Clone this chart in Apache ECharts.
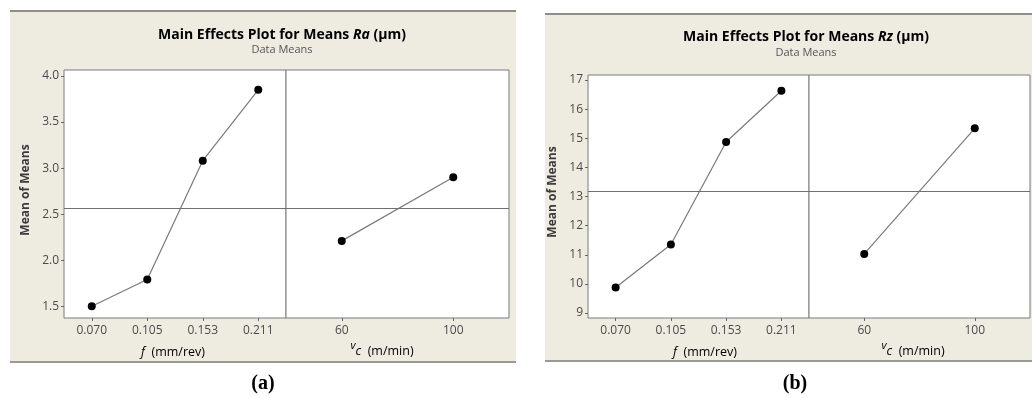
<!DOCTYPE html>
<html>
<head>
<meta charset="utf-8">
<script src="https://cdn.jsdelivr.net/npm/echarts@6/dist/echarts.min.js"></script>
<style>
html,body{margin:0;padding:0;background:#fff;}
#c{width:1032px;height:398px;}
</style>
</head>
<body>
<div id="c"></div>
<script>
// ---- data ----
const fCats = ['0.070', '0.105', '0.153', '0.211'];
const vcCats = ['60', '100'];
const raF = [1.50, 1.79, 3.08, 3.85];
const raVc = [2.21, 2.90];
const rzF = [9.88, 11.35, 14.87, 16.63];
const rzVc = [11.03, 15.34];
const raTicks = [1.5, 2.0, 2.5, 3.0, 3.5, 4.0];
const rzTicks = [9, 10, 11, 12, 13, 14, 15, 16, 17];

const mean = a => a.reduce((s, v) => s + v, 0) / a.length;
const raMean = mean(raF);
const rzMean = mean(rzF);

const FONT = '"Open Sans", "Noto Sans", sans-serif';
const BG = '#eeebe1';
const TXT = '#4a4a4a';

const grids = [
  {left: 64, top: 70, width: 222, height: 248},
  {left: 286, top: 70, width: 223, height: 248},
  {left: 588, top: 75, width: 221, height: 243},
  {left: 809, top: 75, width: 221, height: 243}
].map(g => Object.assign(g, {show: true, backgroundColor: '#fff', borderColor: '#7a7a7a', borderWidth: 1}));

function xAx(i, cats) {
  return {
    type: 'category', gridIndex: i, data: cats, boundaryGap: true,
    axisLine: {show: false},
    axisTick: {show: true, alignWithLabel: true, interval: 0, length: 3, lineStyle: {color: '#666'}},
    axisLabel: {interval: 0, margin: 7, color: TXT, fontSize: 12, fontFamily: FONT},
    splitLine: {show: false}
  };
}
function yAx(i, mn, mx, ticks, dec, show) {
  return {
    type: 'value', gridIndex: i, min: mn, max: mx, show: show,
    axisLine: {show: false},
    axisTick: {show: true, length: 3, customValues: ticks, lineStyle: {color: '#666'}},
    axisLabel: {customValues: ticks, margin: 5, color: TXT, fontSize: 12, fontFamily: FONT,
      formatter: v => Number(v).toFixed(dec)},
    splitLine: {show: false}
  };
}
function ser(i, data, m) {
  return {
    type: 'line', xAxisIndex: i, yAxisIndex: i, data: data,
    symbol: 'circle', symbolSize: 8, itemStyle: {color: '#000'},
    lineStyle: {color: '#7a7a7a', width: 1.2}, z: 3,
    markLine: {silent: true, symbol: ['none', 'none'], label: {show: false},
      lineStyle: {color: '#707070', type: 'solid', width: 1},
      data: [{yAxis: m}]}
  };
}

const richTitle = {
  b: {fontFamily: FONT, fontWeight: 'bold', fontSize: 14, color: '#333'},
  bi: {fontFamily: FONT, fontWeight: 'bold', fontStyle: 'italic', fontSize: 14, color: '#333'}
};
const richAxis = {
  n: {fontFamily: FONT, fontSize: 12.5, color: TXT, verticalAlign: 'bottom', lineHeight: 18},
  i: {fontFamily: FONT, fontStyle: 'italic', fontSize: 12.5, color: TXT, verticalAlign: 'bottom', lineHeight: 18},
  v: {fontFamily: FONT, fontStyle: 'italic', fontSize: 11, color: TXT, verticalAlign: 'top', lineHeight: 18},
  c: {fontFamily: FONT, fontStyle: 'italic', fontSize: 12.5, color: TXT, verticalAlign: 'bottom', lineHeight: 18}
};
function txt(x, y, text, rich, extra) {
  return Object.assign({type: 'text', x: x, y: y, z: 10, silent: true,
    style: {text: text, rich: rich, align: 'center', verticalAlign: 'middle'}}, extra || {});
}
function plain(x, y, text, font, fill) {
  return {type: 'text', x: x, y: y, z: 10, silent: true,
    style: {text: text, align: 'center', verticalAlign: 'middle', font: font, fill: fill}};
}

const graphic = [
  // panel backgrounds
  {type: 'rect', z: -10, silent: true, shape: {x: 10, y: 10, width: 506, height: 353}, style: {fill: BG}},
  {type: 'rect', z: -9, silent: true, shape: {x: 10, y: 10, width: 506, height: 2}, style: {fill: '#8f8f8a'}},
  {type: 'rect', z: -9, silent: true, shape: {x: 10, y: 361, width: 506, height: 2}, style: {fill: '#9a9a95'}},
  {type: 'rect', z: -10, silent: true, shape: {x: 545, y: 13, width: 487, height: 349}, style: {fill: BG}},
  {type: 'rect', z: -9, silent: true, shape: {x: 545, y: 13, width: 487, height: 2}, style: {fill: '#8f8f8a'}},
  {type: 'rect', z: -9, silent: true, shape: {x: 545, y: 360, width: 487, height: 2}, style: {fill: '#9a9a95'}},
  // titles
  txt(282, 35, '{b|Main Effects Plot for Means }{bi|Ra}{b| (μm)}', richTitle),
  plain(282, 50, 'Data Means', '11px ' + FONT, '#555'),
  txt(806, 37.5, '{b|Main Effects Plot for Means }{bi|Rz}{b| (μm)}', richTitle),
  plain(806, 53, 'Data Means', '11px ' + FONT, '#555'),
  // axis names
  txt(173, 350, '{i|f}{n|  (mm/rev)}', richAxis),
  txt(382, 349, '{v|v}{c|c}{n|  (m/min)}', richAxis),
  txt(705, 350, '{i|f}{n|  (mm/rev)}', richAxis),
  txt(913, 349, '{v|v}{c|c}{n|  (m/min)}', richAxis),
  {type: 'text', x: 26, y: 190, rotation: Math.PI / 2, z: 10, silent: true,
    style: {text: 'Mean of Means', align: 'center', verticalAlign: 'middle', font: 'bold 12px ' + FONT, fill: '#3a3a3a'}},
  {type: 'text', x: 553, y: 192, rotation: Math.PI / 2, z: 10, silent: true,
    style: {text: 'Mean of Means', align: 'center', verticalAlign: 'middle', font: 'bold 12px ' + FONT, fill: '#3a3a3a'}},
  // captions
  plain(263, 384, '(a)', 'bold 20px "Liberation Serif", serif', '#000'),
  plain(795, 384, '(b)', 'bold 20px "Liberation Serif", serif', '#000')
];

const chart = echarts.init(document.getElementById('c'), null, {renderer: 'canvas'});
chart.setOption({
  animation: false,
  backgroundColor: '#fff',
  grid: grids,
  xAxis: [xAx(0, fCats), xAx(1, vcCats), xAx(2, fCats), xAx(3, vcCats)],
  yAxis: [
    yAx(0, 1.373, 4.065, raTicks, 1, true),
    yAx(1, 1.373, 4.065, raTicks, 1, false),
    yAx(2, 8.83, 17.17, rzTicks, 0, true),
    yAx(3, 8.83, 17.17, rzTicks, 0, false)
  ],
  series: [ser(0, raF, raMean), ser(1, raVc, raMean), ser(2, rzF, rzMean), ser(3, rzVc, rzMean)],
  graphic: graphic
});
</script>
</body>
</html>
